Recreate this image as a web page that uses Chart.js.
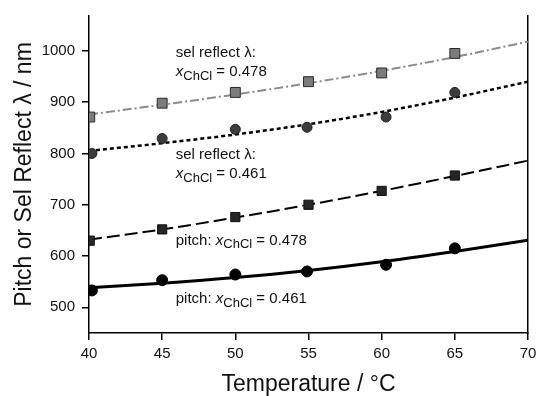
<!DOCTYPE html>
<html>
<head>
<meta charset="utf-8">
<script src="https://cdn.jsdelivr.net/npm/chart.js@4"></script>
<style>
  html, body { margin: 0; padding: 0; background: #fff; }
  #wrap { width: 536px; height: 396px; }
</style>
</head>
<body>
<div id="wrap"><canvas id="chart" width="536" height="396"></canvas></div>
<script>
// temperatures of the measured points (°C)
const tSquares = [40.05, 45, 50, 55, 60, 65]
const tCircles = [40.2, 45, 50, 54.9, 60.3, 65]

// measured values (nm)
const selReflect478 = [871, 898, 919, 940, 957, 995]
const selReflect461 = [800, 829, 847, 851, 871, 919]
const pitch478 = [630, 652, 676, 700, 727, 757]
const pitch461 = [533, 553, 564, 570, 583, 615]

// fitted curves
const tFit = [40, 45, 50, 55, 60, 65, 70]
const fitSel478 = [876, 895, 915, 937, 961, 988, 1018]
const fitSel461 = [805, 820, 837, 857, 881, 909, 940]
const fitPitch478 = [632, 652, 675, 700, 727, 756, 786]
const fitPitch461 = [538, 547, 558, 572, 589, 609, 631]

const xTicks = [40, 45, 50, 55, 60, 65, 70]
const yTicks = [500, 600, 700, 800, 900, 1000]

const FONT = '"Liberation Sans", Arial, Helvetica, sans-serif'

const pts = (xs, ys) => xs.map((x, i) => ({ x: x, y: ys[i] }))

// text labels next to the curves
const notes = [
  { x: 45.93, y: 997, parts: [['sel reflect λ:', 'n']] },
  { x: 45.93, y: 958.5, parts: [['x', 'i'], ['ChCl', 's'], [' = 0.478', 'n']] },
  { x: 45.93, y: 797, parts: [['sel reflect λ:', 'n']] },
  { x: 45.93, y: 759.5, parts: [['x', 'i'], ['ChCl', 's'], [' = 0.461', 'n']] },
  { x: 45.93, y: 630, parts: [['pitch: ', 'n'], ['x', 'i'], ['ChCl', 's'], [' = 0.478', 'n']] },
  { x: 45.93, y: 516, parts: [['pitch: ', 'n'], ['x', 'i'], ['ChCl', 's'], [' = 0.461', 'n']] }
]

const notesPlugin = {
  id: 'notes',
  afterDatasetsDraw(chart) {
    const ctx = chart.ctx
    const xs = chart.scales.x, ys = chart.scales.y
    ctx.save()
    ctx.fillStyle = '#111'
    ctx.textBaseline = 'middle'
    ctx.textAlign = 'left'
    notes.forEach(n => {
      let px = xs.getPixelForValue(n.x)
      const py = ys.getPixelForValue(n.y)
      n.parts.forEach(([txt, kind]) => {
        let dy = 0
        if (kind === 'i') ctx.font = 'italic 15px ' + FONT
        else if (kind === 's') { ctx.font = '13px ' + FONT; dy = 4 }
        else ctx.font = '15px ' + FONT
        ctx.fillText(txt, px, py + dy)
        px += ctx.measureText(txt).width
      })
    })
    ctx.restore()
  }
}

new Chart(document.getElementById('chart').getContext('2d'), {
  type: 'scatter',
  data: {
    datasets: [
      // markers (drawn on top)
      {
        data: pts(tSquares, selReflect478), order: 1,
        pointStyle: 'rect', pointRadius: 7,
        backgroundColor: '#7c7c7c', borderColor: '#2a2a2a', borderWidth: 1
      },
      {
        data: pts(tCircles, selReflect461), order: 1,
        pointStyle: 'circle', pointRadius: 5,
        backgroundColor: '#3c3c3c', borderColor: '#222', borderWidth: 1
      },
      {
        data: pts(tSquares, pitch478), order: 1,
        pointStyle: 'rect', pointRadius: 6.5,
        backgroundColor: '#262626', borderColor: '#111', borderWidth: 1
      },
      {
        data: pts(tCircles, pitch461), order: 1,
        pointStyle: 'circle', pointRadius: 5.5,
        backgroundColor: '#000', borderColor: '#000', borderWidth: 1
      },
      // fitted lines
      {
        data: pts(tFit, fitSel478), order: 2, showLine: true, pointRadius: 0,
        borderColor: '#8a8a8a', borderWidth: 2, borderDash: [9, 3, 2, 3],
        cubicInterpolationMode: 'monotone'
      },
      {
        data: pts(tFit, fitSel461), order: 2, showLine: true, pointRadius: 0,
        borderColor: '#000', borderWidth: 2.5, borderDash: [4, 3],
        cubicInterpolationMode: 'monotone'
      },
      {
        data: pts(tFit, fitPitch478), order: 2, showLine: true, pointRadius: 0,
        borderColor: '#000', borderWidth: 2, borderDash: [13, 5],
        cubicInterpolationMode: 'monotone'
      },
      {
        data: pts(tFit, fitPitch461), order: 2, showLine: true, pointRadius: 0,
        borderColor: '#000', borderWidth: 3,
        cubicInterpolationMode: 'monotone'
      }
    ]
  },
  options: {
    responsive: false,
    animation: false,
    devicePixelRatio: 1,
    layout: { padding: { left: 0, right: 0, top: 13, bottom: 0 } },
    plugins: {
      legend: { display: false },
      tooltip: { enabled: false }
    },
    scales: {
      x: {
        type: 'linear',
        min: 40,
        max: 70,
        afterBuildTicks: s => { s.ticks = xTicks.map(v => ({ value: v })) },
        afterFit: s => { s.height = 63; s.paddingRight = 8; s.paddingLeft = 0 },
        grid: { display: true, drawOnChartArea: false, drawTicks: true, tickLength: 7, color: '#000', lineWidth: 1.5 },
        border: { display: true, color: '#000', width: 1.5 },
        ticks: { color: '#111', font: { family: FONT, size: 15 }, padding: 5, maxRotation: 0, callback: v => String(v) },
        title: {
          display: true, text: 'Temperature / °C', color: '#111',
          font: { family: FONT, size: 23 }, padding: { top: 0, bottom: -2 }
        }
      },
      y: {
        type: 'linear',
        position: 'left',
        min: 450,
        max: 1068,
        afterBuildTicks: s => { s.ticks = yTicks.map(v => ({ value: v })) },
        afterFit: s => { s.width = 89 },
        grid: { display: true, drawOnChartArea: false, drawTicks: true, tickLength: 7, color: '#000', lineWidth: 1.5 },
        border: { display: true, color: '#000', width: 1.5 },
        ticks: { color: '#111', font: { family: FONT, size: 15 }, padding: 7, callback: v => String(v) },
        title: {
          display: true, text: 'Pitch or Sel Reflect λ / nm', color: '#111',
          font: { family: FONT, size: 23 }, padding: { top: 11, bottom: 0 }
        }
      },
      y2: {
        type: 'linear',
        position: 'right',
        min: 450,
        max: 1068,
        afterFit: s => { s.width = 0 },
        grid: { display: false, drawTicks: false },
        border: { display: true, color: '#000', width: 1.5 },
        ticks: { display: false }
      }
    }
  },
  plugins: [notesPlugin]
})
</script>
</body>
</html>
